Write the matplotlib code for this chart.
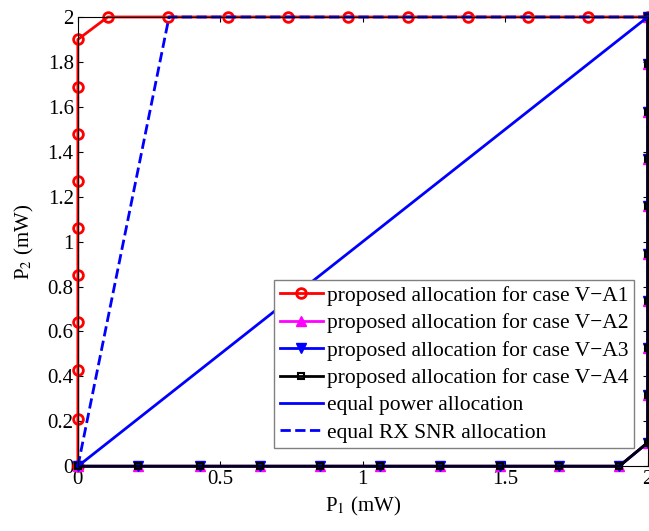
import numpy as np
import matplotlib.pyplot as plt

plt.rcParams['font.family'] = ['Liberation Serif', 'DejaVu Serif']
plt.rcParams['mathtext.fontset'] = 'stix'

# case V-A1: climbs the P1=0 axis, then runs along P2=2
a1_p1 = [0, 0, 0, 0, 0, 0, 0, 0, 0, 0, 0.105, 0.316, 0.526, 0.737, 0.947, 1.158, 1.368, 1.579, 1.789, 2.0]
a1_p2 = [0, 0.21, 0.43, 0.64, 0.85, 1.06, 1.27, 1.48, 1.69, 1.90, 2, 2, 2, 2, 2, 2, 2, 2, 2, 2]
# cases V-A2..A4: along P2=0, then up P1=2
ax_p1 = [0, 0.21, 0.43, 0.64, 0.85, 1.06, 1.27, 1.48, 1.69, 1.90, 2, 2, 2, 2, 2, 2, 2, 2, 2, 2]
ax_p2 = [0, 0, 0, 0, 0, 0, 0, 0, 0, 0, 0.105, 0.316, 0.526, 0.737, 0.947, 1.158, 1.368, 1.579, 1.789, 2.0]
eq_p1 = [0, 2]
eq_p2 = [0, 2]
snr_p1 = [0, 0.32, 2]
snr_p2 = [0, 2, 2]

fig = plt.figure(figsize=(6.49, 5.31), dpi=100)
ax = fig.add_axes([0.120, 0.122, 0.878, 0.846])

ax.plot(a1_p1, a1_p2, color='red', lw=2, marker='o', ms=7, mfc='none', mew=2, clip_on=False,
        label='proposed allocation for case V\u2212A1')
ax.plot(ax_p1, ax_p2, color='magenta', lw=2, marker='^', ms=7, clip_on=False,
        label='proposed allocation for case V\u2212A2')
ax.plot(ax_p1, ax_p2, color='blue', lw=2, marker='v', ms=7, clip_on=False,
        label='proposed allocation for case V\u2212A3')
ax.plot(ax_p1, ax_p2, color='black', lw=2, marker='s', ms=5, mfc='none', mew=1.5, clip_on=False,
        label='proposed allocation for case V\u2212A4')
ax.plot(eq_p1, eq_p2, color='blue', lw=2, clip_on=False, label='equal power allocation')
ax.plot(snr_p1, snr_p2, color='blue', lw=2, ls='--', clip_on=False, label='equal RX SNR allocation')

ax.set_xlim(0, 2)
ax.set_ylim(0, 2)
ax.set_xticks([0, 0.5, 1, 1.5, 2])
ax.set_xticklabels(['0', '0.5', '1', '1.5', '2'])
yt = [0, 0.2, 0.4, 0.6, 0.8, 1, 1.2, 1.4, 1.6, 1.8, 2]
ax.set_yticks(yt)
ax.set_yticklabels(['0', '0.2', '0.4', '0.6', '0.8', '1', '1.2', '1.4', '1.6', '1.8', '2'])
ax.tick_params(direction='in', labelsize=15, pad=3, top=True, right=True)
ax.set_xlabel('P$_1$ (mW)', fontsize=15)
ax.set_ylabel('P$_2$ (mW)', fontsize=15, labelpad=8)

leg = ax.legend(loc='lower right', bbox_to_anchor=(0.976, 0.04), fontsize=15.5,
                fancybox=False, edgecolor='gray', framealpha=1,
                handlelength=2.0, handletextpad=0.2, borderpad=0.25, labelspacing=0.34,
                borderaxespad=0)
leg.get_frame().set_linewidth(1)
leg.set_zorder(5)

plt.savefig('out.png', dpi=100)
